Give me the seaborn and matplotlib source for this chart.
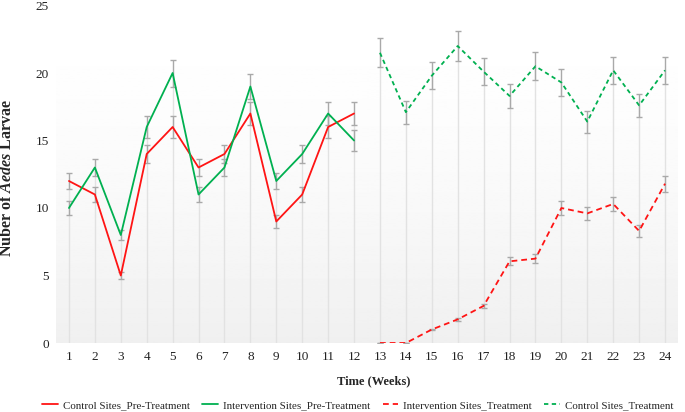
import numpy as np
import pandas as pd
import matplotlib
matplotlib.use('Agg')
import matplotlib.pyplot as plt
import seaborn as sns

weeks_pre = list(range(1, 13))
weeks_trt = list(range(13, 25))
week_ticks = list(range(1, 25))

control_pre = [12, 11, 5, 14, 16, 13, 14, 17, 9, 11, 16, 17]
control_pre_err = [0.6, 0.55, 0.25, 0.7, 0.8, 0.65, 0.7, 0.85, 0.45, 0.55, 0.8, 0.85]
interv_pre = [10, 13, 8, 16, 20, 11, 13, 19, 12, 14, 17, 15]
interv_pre_err = [0.5, 0.65, 0.4, 0.8, 1.0, 0.55, 0.65, 0.95, 0.6, 0.7, 0.85, 0.75]
interv_trt = [0, 0, 1.0, 1.75, 2.75, 6.05, 6.25, 10.0, 9.6, 10.3, 8.3, 11.8]
interv_trt_err = [0, 0, 0.05, 0.09, 0.14, 0.3, 0.31, 0.5, 0.48, 0.52, 0.42, 0.59]
control_trt = [21.5, 17.1, 19.8, 22.0, 20.1, 18.3, 20.5, 19.3, 16.4, 20.2, 17.6, 20.2]
control_trt_err = [1.08, 0.86, 0.99, 1.1, 1.0, 0.92, 1.02, 0.97, 0.82, 1.01, 0.88, 1.01]

RED = '#ff1414'
GREEN = '#00b050'

sns.set_style('white')
plt.rcParams['font.family'] = ['Liberation Serif', 'DejaVu Serif']
plt.rcParams['mathtext.fontset'] = 'custom'
plt.rcParams['mathtext.it'] = 'Liberation Serif:italic:bold'
plt.rcParams['mathtext.rm'] = 'Liberation Serif:bold'
plt.rcParams['mathtext.bf'] = 'Liberation Serif:bold'

fig = plt.figure(figsize=(6.85, 4.12), dpi=100)
ax = fig.add_axes([56 / 685, 69 / 412, 622 / 685, 337.5 / 412])

# gradient background (white top -> light grey bottom)
grad = np.linspace(0, 1, 256).reshape(-1, 1) ** 1.6
ax.imshow(1 - 0.06 * grad, cmap='gray', vmin=0, vmax=1, aspect='auto',
          extent=[0, 1, 0, 1], transform=ax.transAxes, zorder=0)

# drop lines from the highest value of each week
tops = list(np.maximum(control_pre, interv_pre)) + list(np.maximum(interv_trt, control_trt))
ax.vlines(week_ticks, 0, tops, color='#e2e2e2', lw=1, zorder=1)

# error bars
ekw = dict(fmt='none', ecolor='#a9a9a9', elinewidth=1, capsize=2, capthick=1, zorder=2)
ax.errorbar(weeks_pre, control_pre, yerr=control_pre_err, **ekw)
ax.errorbar(weeks_pre, interv_pre, yerr=interv_pre_err, **ekw)
ax.errorbar(weeks_trt, interv_trt, yerr=interv_trt_err, **ekw)
ax.errorbar(weeks_trt, control_trt, yerr=control_trt_err, **ekw)

sns.lineplot(x=weeks_pre, y=control_pre, color=RED, lw=1.3, ax=ax, zorder=3,
             label='Control Sites_Pre-Treatment')
sns.lineplot(x=weeks_pre, y=interv_pre, color=GREEN, lw=1.3, ax=ax, zorder=3,
             label='Intervention Sites_Pre-Treatment')
sns.lineplot(x=weeks_trt, y=interv_trt, color=RED, lw=1.3, ax=ax, zorder=3,
             linestyle=(0, (3.2, 2.2)), label='Intervention Sites_Treatment')
sns.lineplot(x=weeks_trt, y=control_trt, color=GREEN, lw=1.3, ax=ax, zorder=3,
             linestyle=(0, (2.4, 1.9)), label='Control Sites_Treatment')

ax.set_xlim(0.5, 24.5)
ax.set_ylim(0, 25)
ax.set_xticks(week_ticks)
ax.set_yticks([0, 5, 10, 15, 20, 25])
ax.tick_params(axis='both', length=0, labelsize=9.5, colors='#222222')
ax.tick_params(axis='y', pad=5)
ax.tick_params(axis='x', pad=6)
for s in ax.spines.values():
    s.set_visible(False)
ax.grid(False)

ax.set_xlabel('Time (Weeks)', fontsize=9, fontweight='bold')
ax.xaxis.set_label_coords(0.511, -0.097)
ax.set_ylabel(r'Nuber of $\mathit{Aedes}$ Larvae', fontsize=11.5, fontweight='bold')
ax.yaxis.set_label_coords(-0.066, 0.49)

ax.legend(loc='center', bbox_to_anchor=(358 / 685, 7 / 412), bbox_transform=fig.transFigure,
          ncol=4, frameon=False, fontsize=7.9, handlelength=1.45, handletextpad=0.45,
          columnspacing=1.1, borderpad=0.2)

fig.savefig('out.png', dpi=100)
